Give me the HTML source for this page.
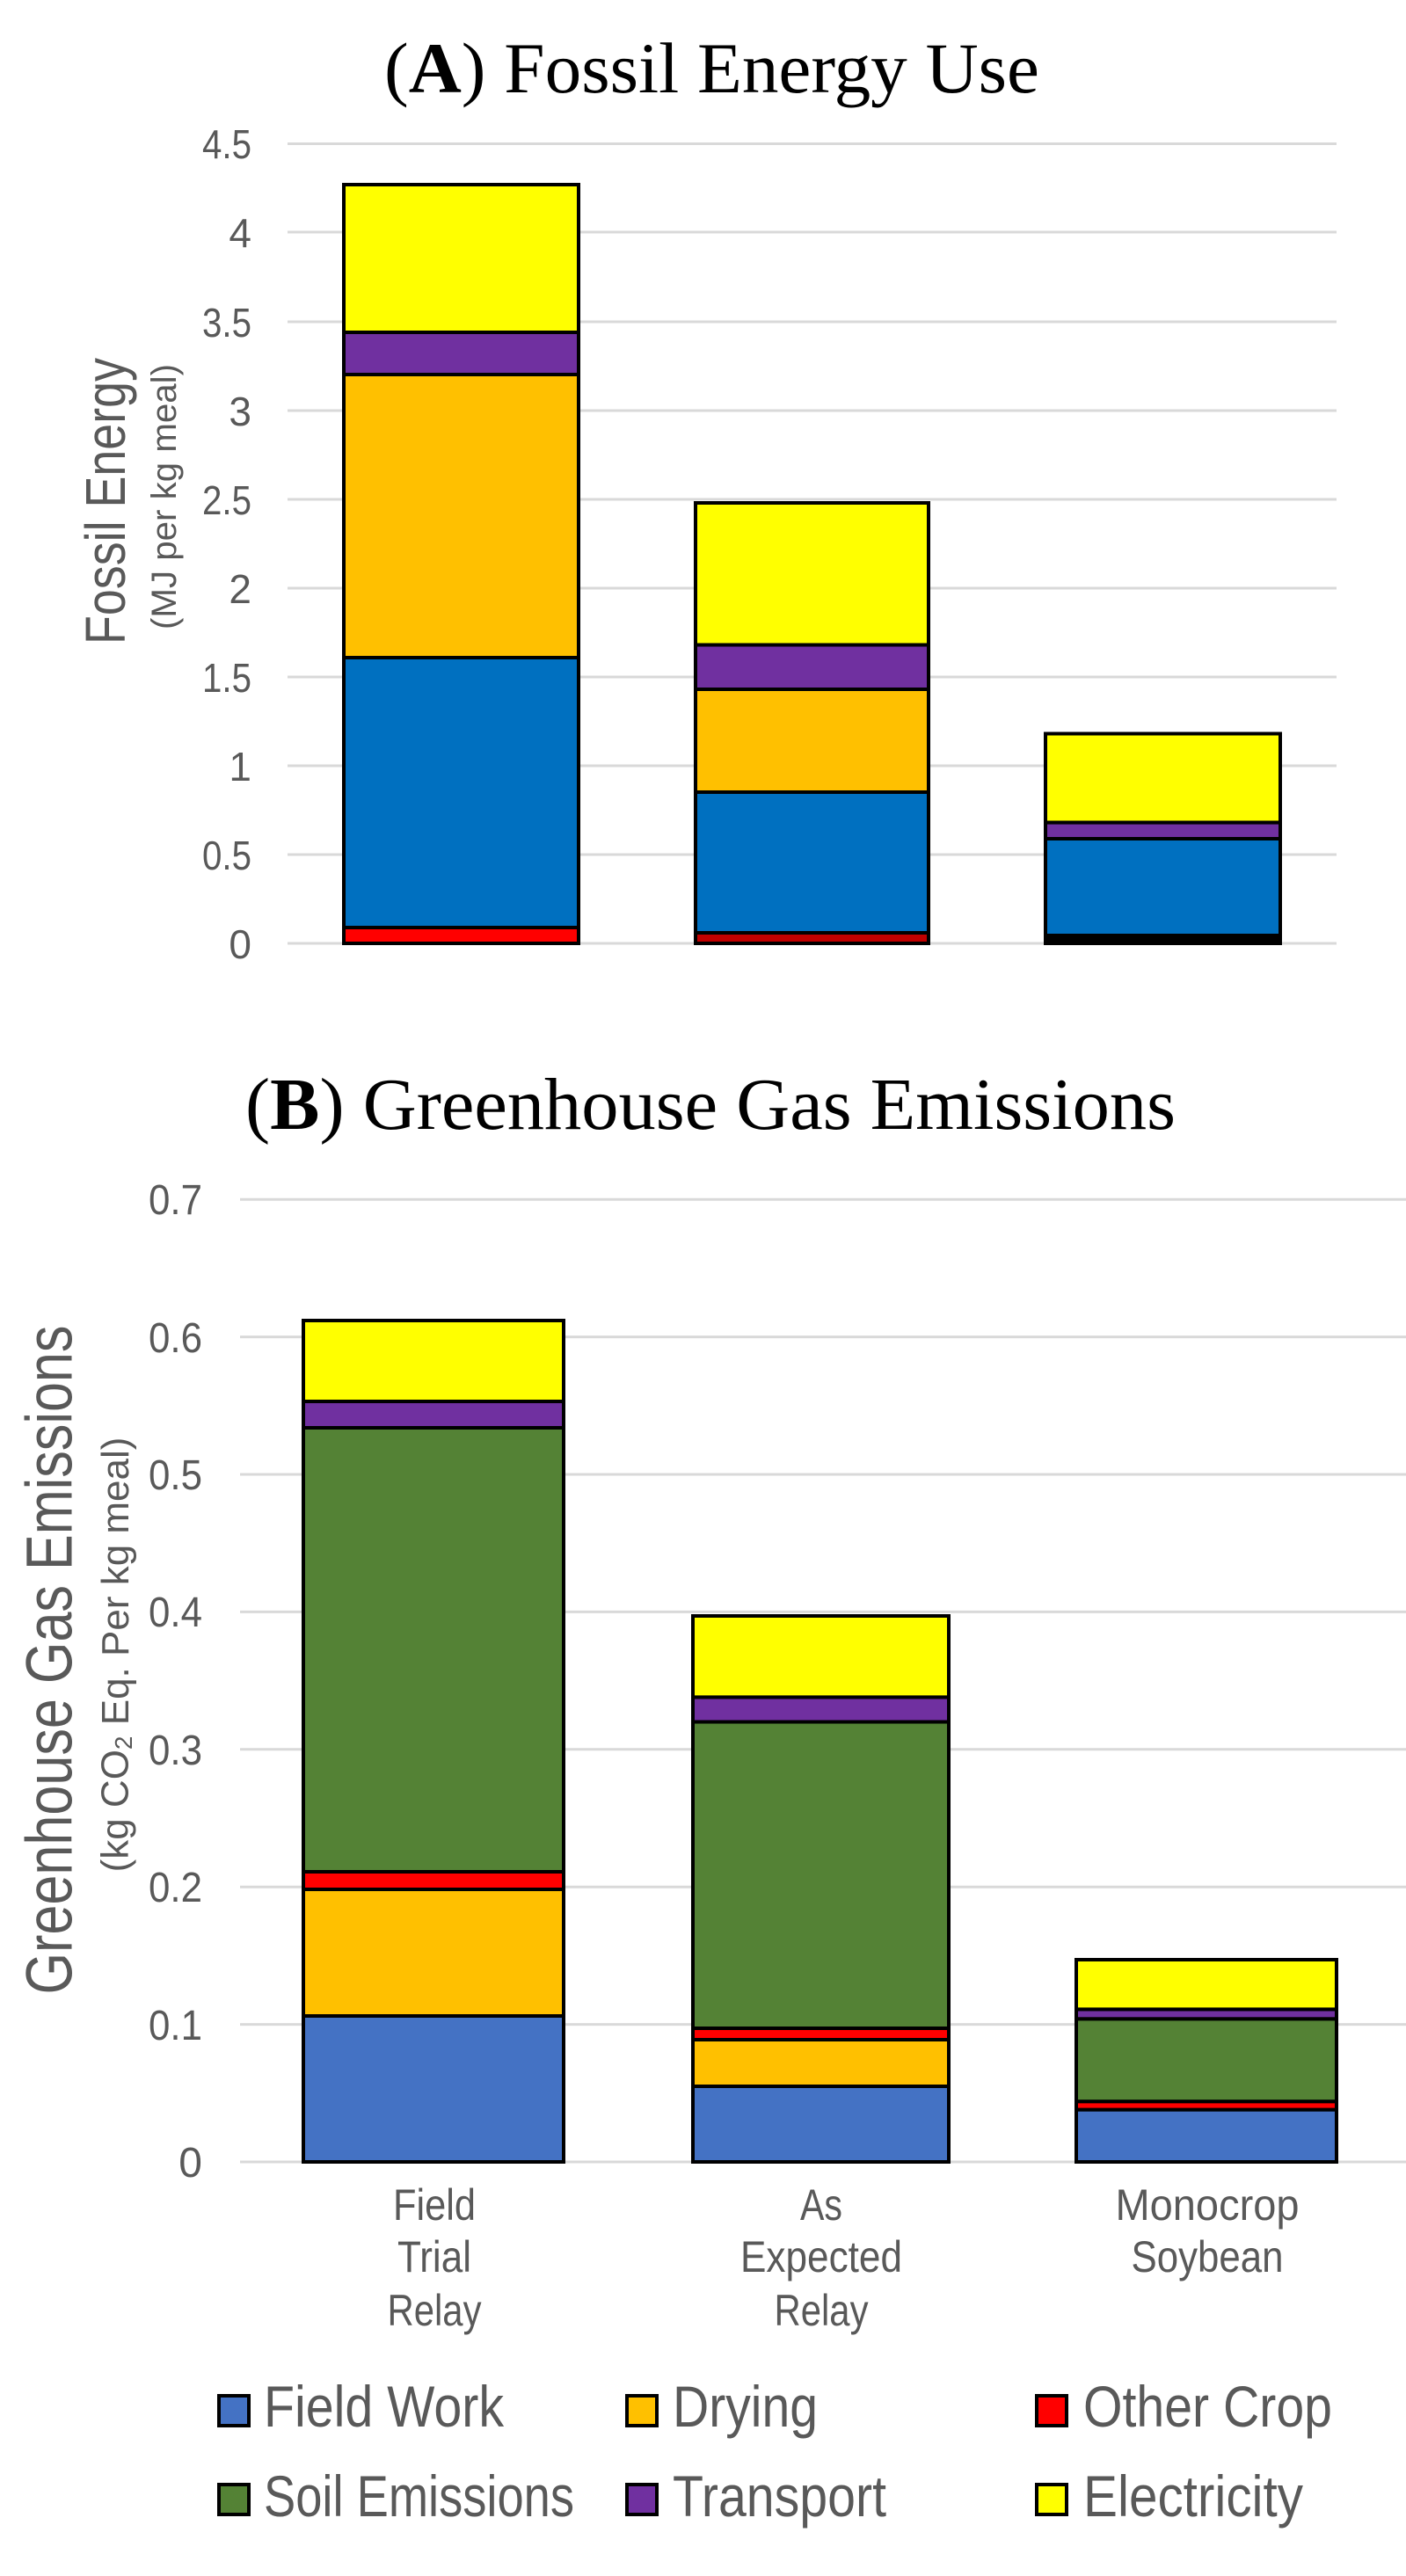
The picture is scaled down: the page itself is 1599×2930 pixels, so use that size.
<!DOCTYPE html>
<html><head><meta charset="utf-8"><style>
html,body{margin:0;padding:0;background:#fff;}
svg{display:block;}
.t{font-family:"Liberation Sans",sans-serif;fill:#595959;}
.ti{font-family:"Liberation Serif",serif;fill:#000;}
</style></head><body>
<svg width="1599" height="2930" viewBox="0 0 1599 2930" xmlns="http://www.w3.org/2000/svg">
<text class="ti" x="437" y="105" font-size="82" textLength="745" lengthAdjust="spacingAndGlyphs">(<tspan font-weight="bold">A</tspan>) Fossil Energy Use</text>
<g stroke="#d9d9d9" stroke-width="3">
<line x1="327" x2="1520" y1="1073" y2="1073"/><line x1="327" x2="1520" y1="972" y2="972"/>
<line x1="327" x2="1520" y1="871" y2="871"/><line x1="327" x2="1520" y1="770" y2="770"/>
<line x1="327" x2="1520" y1="669" y2="669"/><line x1="327" x2="1520" y1="568" y2="568"/>
<line x1="327" x2="1520" y1="467" y2="467"/><line x1="327" x2="1520" y1="366" y2="366"/>
<line x1="327" x2="1520" y1="264" y2="264"/><line x1="327" x2="1520" y1="163.5" y2="163.5"/>
</g>
<g class="t" font-size="46" text-anchor="end">
<text x="286" y="1090">0</text><text x="286" y="989" textLength="56" lengthAdjust="spacingAndGlyphs">0.5</text><text x="286" y="888">1</text>
<text x="286" y="787" textLength="56" lengthAdjust="spacingAndGlyphs">1.5</text><text x="286" y="686">2</text><text x="286" y="585" textLength="56" lengthAdjust="spacingAndGlyphs">2.5</text>
<text x="286" y="484">3</text><text x="286" y="383" textLength="56" lengthAdjust="spacingAndGlyphs">3.5</text><text x="286" y="281">4</text>
<text x="286" y="180" textLength="56" lengthAdjust="spacingAndGlyphs">4.5</text>
</g>
<text class="t" font-size="64" text-anchor="middle" dominant-baseline="central" transform="translate(120,570) rotate(-90)" textLength="326" lengthAdjust="spacingAndGlyphs">Fossil Energy</text>
<text class="t" font-size="40" text-anchor="middle" dominant-baseline="central" transform="translate(187,565) rotate(-90)" textLength="302" lengthAdjust="spacingAndGlyphs">(MJ per kg meal)</text>
<g stroke="#000" stroke-width="4">
<rect x="391" y="1055" width="267" height="18" fill="#FF0000"/>
<rect x="391" y="748" width="267" height="307" fill="#0070C0"/>
<rect x="391" y="426" width="267" height="322" fill="#FFC000"/>
<rect x="391" y="378" width="267" height="48" fill="#7030A0"/>
<rect x="391" y="210" width="267" height="168" fill="#FFFF00"/>
<rect x="791" y="1061" width="265" height="12" fill="#C00000"/>
<rect x="791" y="901" width="265" height="160" fill="#0070C0"/>
<rect x="791" y="784" width="265" height="117" fill="#FFC000"/>
<rect x="791" y="733.5" width="265" height="50.5" fill="#7030A0"/>
<rect x="791" y="572" width="265" height="161.5" fill="#FFFF00"/>
<rect x="1189" y="1064" width="267" height="9" fill="#000"/>
<rect x="1189" y="954" width="267" height="110" fill="#0070C0"/>
<rect x="1189" y="935.6" width="267" height="18.4" fill="#7030A0"/>
<rect x="1189" y="834.5" width="267" height="101" fill="#FFFF00"/>
</g>

<text class="ti" x="279" y="1284" font-size="84" textLength="1058" lengthAdjust="spacingAndGlyphs">(<tspan font-weight="bold">B</tspan>) Greenhouse Gas Emissions</text>
<g stroke="#d9d9d9" stroke-width="3">
<line x1="273" x2="1599" y1="2459" y2="2459"/><line x1="273" x2="1599" y1="2302.6" y2="2302.6"/>
<line x1="273" x2="1599" y1="2146.2" y2="2146.2"/><line x1="273" x2="1599" y1="1989.8" y2="1989.8"/>
<line x1="273" x2="1599" y1="1833.4" y2="1833.4"/><line x1="273" x2="1599" y1="1677" y2="1677"/>
<line x1="273" x2="1599" y1="1520.6" y2="1520.6"/><line x1="273" x2="1599" y1="1364.2" y2="1364.2"/>
</g>
<g class="t" font-size="48" text-anchor="end">
<text x="230" y="2476">0</text><text x="230" y="2320" textLength="61" lengthAdjust="spacingAndGlyphs">0.1</text><text x="230" y="2163" textLength="61" lengthAdjust="spacingAndGlyphs">0.2</text>
<text x="230" y="2007" textLength="61" lengthAdjust="spacingAndGlyphs">0.3</text><text x="230" y="1850" textLength="61" lengthAdjust="spacingAndGlyphs">0.4</text><text x="230" y="1694" textLength="61" lengthAdjust="spacingAndGlyphs">0.5</text>
<text x="230" y="1538" textLength="61" lengthAdjust="spacingAndGlyphs">0.6</text><text x="230" y="1381" textLength="61" lengthAdjust="spacingAndGlyphs">0.7</text>
</g>
<text class="t" font-size="74" text-anchor="middle" dominant-baseline="central" transform="translate(56,1888) rotate(-90)" textLength="761" lengthAdjust="spacingAndGlyphs">Greenhouse Gas Emissions</text>
<text class="t" font-size="44" text-anchor="middle" dominant-baseline="central" transform="translate(131,1882) rotate(-90)">(kg CO<tspan font-size="28" dy="9">2</tspan><tspan dy="-9"> Eq. Per kg meal)</tspan></text>
<g stroke="#000" stroke-width="4">
<rect x="345" y="2293" width="296" height="166" fill="#4472C4"/>
<rect x="345" y="2149" width="296" height="144" fill="#FFC000"/>
<rect x="345" y="2129" width="296" height="20" fill="#FF0000"/>
<rect x="345" y="1624" width="296" height="505" fill="#548235"/>
<rect x="345" y="1594" width="296" height="30" fill="#7030A0"/>
<rect x="345" y="1502" width="296" height="92" fill="#FFFF00"/>
<rect x="788" y="2373" width="291" height="86" fill="#4472C4"/>
<rect x="788" y="2320" width="291" height="53" fill="#FFC000"/>
<rect x="788" y="2307" width="291" height="13" fill="#FF0000"/>
<rect x="788" y="1958.5" width="291" height="348.5" fill="#548235"/>
<rect x="788" y="1930.4" width="291" height="28.1" fill="#7030A0"/>
<rect x="788" y="1838" width="291" height="92.4" fill="#FFFF00"/>
<rect x="1224" y="2399.6" width="296" height="59.4" fill="#4472C4"/>
<rect x="1224" y="2390.2" width="296" height="9.4" fill="#FF0000"/>
<rect x="1224" y="2296.3" width="296" height="93.9" fill="#548235"/>
<rect x="1224" y="2285.4" width="296" height="10.9" fill="#7030A0"/>
<rect x="1224" y="2229" width="296" height="56.4" fill="#FFFF00"/>
</g>
<g class="t" font-size="50" text-anchor="middle">
<text x="494" y="2525" textLength="94" lengthAdjust="spacingAndGlyphs">Field</text><text x="494" y="2584" textLength="84" lengthAdjust="spacingAndGlyphs">Trial</text><text x="494" y="2645" textLength="107" lengthAdjust="spacingAndGlyphs">Relay</text>
<text x="934" y="2525" textLength="48" lengthAdjust="spacingAndGlyphs">As</text><text x="934" y="2584" textLength="184" lengthAdjust="spacingAndGlyphs">Expected</text><text x="934" y="2645" textLength="107" lengthAdjust="spacingAndGlyphs">Relay</text>
<text x="1373" y="2525" textLength="209" lengthAdjust="spacingAndGlyphs">Monocrop</text><text x="1373" y="2584" textLength="173" lengthAdjust="spacingAndGlyphs">Soybean</text>
</g>
<g stroke="#000" stroke-width="4">
<rect x="249" y="2725" width="34" height="34" fill="#4472C4"/>
<rect x="713" y="2725" width="34" height="34" fill="#FFC000"/>
<rect x="1179" y="2725" width="34" height="34" fill="#FF0000"/>
<rect x="249" y="2826" width="34" height="34" fill="#548235"/>
<rect x="713" y="2826" width="34" height="34" fill="#7030A0"/>
<rect x="1179" y="2826" width="34" height="34" fill="#FFFF00"/>
</g>
<g class="t" font-size="66">
<text x="300" y="2760" textLength="273" lengthAdjust="spacingAndGlyphs">Field Work</text>
<text x="765" y="2760" textLength="165" lengthAdjust="spacingAndGlyphs">Drying</text>
<text x="1232" y="2760" textLength="283" lengthAdjust="spacingAndGlyphs">Other Crop</text>
<text x="300" y="2862" textLength="353" lengthAdjust="spacingAndGlyphs">Soil Emissions</text>
<text x="765" y="2862" textLength="243" lengthAdjust="spacingAndGlyphs">Transport</text>
<text x="1232" y="2862" textLength="250" lengthAdjust="spacingAndGlyphs">Electricity</text>
</g>
</svg>
</body></html>
